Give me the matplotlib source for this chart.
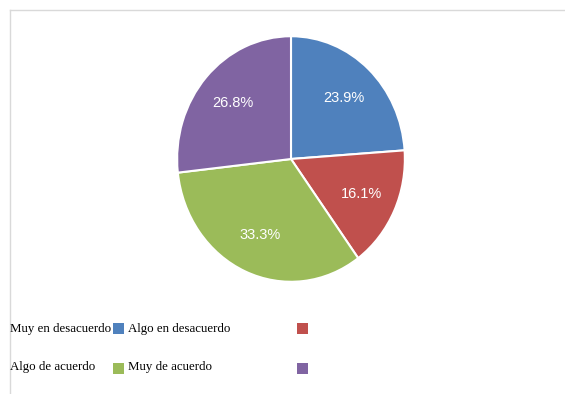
import matplotlib
matplotlib.use('Agg')
import matplotlib.pyplot as plt
from matplotlib.patches import Rectangle
from matplotlib.lines import Line2D

# 回答の分布
categories = ['Muy en desacuerdo', 'Algo en desacuerdo', 'Algo de acuerdo', 'Muy de acuerdo']
values = [23.9, 16.1, 33.3, 26.8]
colors = ['#4F81BD', '#C0504D', '#9BBB59', '#8064A2']

W, H = 565, 394
fig = plt.figure(figsize=(W / 100, H / 100), dpi=100)

# 外枠 (上辺と左辺のみ見える)
fig.add_artist(Line2D([10 / W, 1], [1 - 10 / H, 1 - 10 / H], color='#D9D9D9', lw=1))
fig.add_artist(Line2D([10 / W, 10 / W], [0, 1 - 10 / H], color='#D9D9D9', lw=1))

# 円グラフ
cx, cy, rx, ry = 291, 159, 115, 124
ax = fig.add_axes([(cx - rx) / W, (H - cy - ry) / H, 2 * rx / W, 2 * ry / H])
wedges, _, autotexts = ax.pie(values, colors=colors, startangle=90, counterclock=False,
                              autopct='%.1f%%', pctdistance=0.68,
                              wedgeprops=dict(edgecolor='white', linewidth=1.5),
                              textprops=dict(color='white', fontsize=10.5,
                                             family='Liberation Sans'))
ax.set_aspect('auto')
ax.set_xlim(-1.01, 1.01)
ax.set_ylim(-1.01, 1.01)
ax.axis('off')

# 凡例 (文字と色見本の位置がずれている)
text_x = [10, 128]
text_y = [329, 367]
box_x = [113, 297]
box_y = [323, 363]
for i, (label, c) in enumerate(zip(categories, colors)):
    r, col = divmod(i, 2)
    fig.text(text_x[col] / W, 1 - text_y[r] / H, label, ha='left', va='center',
             fontsize=9.3, family='Liberation Serif', color='black')
    fig.add_artist(Rectangle((box_x[col] / W, 1 - (box_y[r] + 11) / H), 11 / W, 11 / H,
                             facecolor=c, edgecolor='none', transform=fig.transFigure))

fig.savefig('out.png', dpi=100)
